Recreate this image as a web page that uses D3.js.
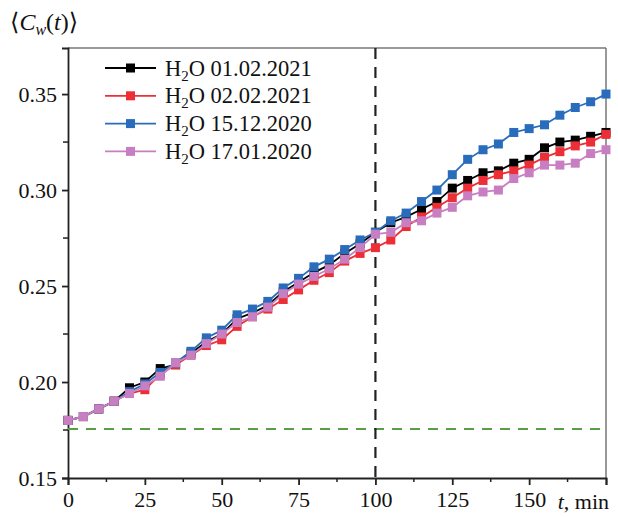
<!DOCTYPE html>
<html>
<head>
<meta charset="utf-8">
<script src="https://cdn.jsdelivr.net/npm/d3@7"></script>
<style>
  body { margin: 0; background: #fff; }
  svg text { font-family: "Liberation Serif", "DejaVu Serif", serif; }
</style>
</head>
<body>
<svg id="chart" width="618" height="517"></svg>
<script>
// time points, min
var times = d3.range(0, 180, 5);

var h2o_010221 = [0.180, 0.182, 0.186, 0.190, 0.197, 0.200, 0.207, 0.209, 0.215, 0.221, 0.225, 0.233,
  0.236, 0.240, 0.247, 0.252, 0.257, 0.261, 0.267, 0.272, 0.278, 0.283, 0.286, 0.290,
  0.294, 0.301, 0.305, 0.309, 0.310, 0.314, 0.316, 0.322, 0.325, 0.326, 0.328, 0.330];
var h2o_020221 = [0.180, 0.182, 0.186, 0.190, 0.194, 0.196, 0.204, 0.209, 0.214, 0.219, 0.222, 0.229,
  0.234, 0.238, 0.243, 0.248, 0.253, 0.257, 0.263, 0.267, 0.270, 0.274, 0.281, 0.286,
  0.291, 0.296, 0.301, 0.305, 0.308, 0.310, 0.313, 0.317, 0.320, 0.323, 0.325, 0.329];
var h2o_151220 = [0.180, 0.182, 0.186, 0.190, 0.195, 0.199, 0.205, 0.210, 0.216, 0.223, 0.227, 0.235,
  0.238, 0.242, 0.249, 0.254, 0.260, 0.264, 0.269, 0.274, 0.278, 0.284, 0.288, 0.294,
  0.300, 0.308, 0.316, 0.321, 0.324, 0.330, 0.332, 0.334, 0.339, 0.343, 0.346, 0.350];
var h2o_170120 = [0.180, 0.182, 0.186, 0.190, 0.194, 0.198, 0.203, 0.210, 0.214, 0.220, 0.225, 0.231,
  0.234, 0.239, 0.246, 0.251, 0.255, 0.259, 0.264, 0.270, 0.277, 0.278, 0.283, 0.284,
  0.288, 0.291, 0.297, 0.299, 0.300, 0.306, 0.309, 0.313, 0.313, 0.314, 0.319, 0.321];

var seriesNames = ["01.02.2021", "02.02.2021", "15.12.2020", "17.01.2020"];
var seriesColors = ["#000000", "#ec2f36", "#2a6cbc", "#c87fc2"];
var seriesValues = [h2o_010221, h2o_020221, h2o_151220, h2o_170120];

var xTicks = [0, 25, 50, 75, 100, 125, 150, 175];
var xTickLabels = ["0", "25", "50", "75", "100", "125", "150", ""];
var yTicks = [0.15, 0.20, 0.25, 0.30, 0.35];
var baseline = 0.1755;   // green dashed level
var tMark = 100;         // vertical dashed line

var svg = d3.select("#chart");
var margin = {top: 48, right: 12, bottom: 39, left: 68};
var width = 618 - margin.left - margin.right,
    height = 517 - margin.top - margin.bottom;
var g = svg.append("g").attr("transform", "translate(" + margin.left + "," + margin.top + ")");

var x = d3.scaleLinear().domain([0, 175]).range([0, width]);
var y = d3.scaleLinear().domain([0.15, 0.374]).range([height, 0]);

// frame top/right
g.append("line").attr("x1", 0).attr("x2", width).attr("y1", 0).attr("y2", 0)
  .attr("stroke", "#777").attr("stroke-width", 1.5);
g.append("line").attr("x1", width).attr("x2", width).attr("y1", 0).attr("y2", height)
  .attr("stroke", "#777").attr("stroke-width", 1.5);

// minor ticks
var xMinor = d3.range(12.5, 175, 25);
g.selectAll(".xminor").data(xMinor).enter().append("line")
  .attr("x1", function(d) { return x(d); }).attr("x2", function(d) { return x(d); })
  .attr("y1", height).attr("y2", height + 4)
  .attr("stroke", "#222").attr("stroke-width", 1.5);
var yMinor = [0.175, 0.225, 0.275, 0.325];
g.selectAll(".yminor").data(yMinor).enter().append("line")
  .attr("y1", function(d) { return y(d); }).attr("y2", function(d) { return y(d); })
  .attr("x1", 0).attr("x2", -5)
  .attr("stroke", "#222").attr("stroke-width", 1.5);

var xAxis = g.append("g").attr("transform", "translate(0," + height + ")")
  .call(d3.axisBottom(x).tickValues(xTicks).tickSize(7).tickPadding(6)
    .tickFormat(function(d, i) { return xTickLabels[i]; }));
var yAxis = g.append("g")
  .call(d3.axisLeft(y).tickValues(yTicks).tickSize(6).tickPadding(5).tickFormat(d3.format(".2f")));

[xAxis, yAxis].forEach(function(a) {
  a.select(".domain").attr("stroke", "#222").attr("stroke-width", 1.8);
  a.selectAll(".tick line").attr("stroke", "#222").attr("stroke-width", 1.8);
  a.selectAll(".tick text").attr("font-size", 22).attr("fill", "#111")
    .style("font-family", "Liberation Serif, serif");
});

// reference lines
g.append("line").attr("x1", 0).attr("x2", width)
  .attr("y1", y(baseline)).attr("y2", y(baseline))
  .attr("stroke", "#5a9e48").attr("stroke-width", 2).attr("stroke-dasharray", "10,8");
g.append("line").attr("x1", x(tMark)).attr("x2", x(tMark))
  .attr("y1", 0).attr("y2", height)
  .attr("stroke", "#222").attr("stroke-width", 2.2).attr("stroke-dasharray", "11,8");

// series
var line = d3.line()
  .x(function(d, i) { return x(times[i]); })
  .y(function(d) { return y(d); });

seriesValues.forEach(function(vals, k) {
  var s = g.append("g");
  s.append("path").datum(vals)
    .attr("fill", "none").attr("stroke", seriesColors[k]).attr("stroke-width", 1.8)
    .attr("d", line);
  s.selectAll("rect").data(vals).enter().append("rect")
    .attr("x", function(d, i) { return x(times[i]) - 4.5; })
    .attr("y", function(d) { return y(d) - 4.5; })
    .attr("width", 9).attr("height", 9)
    .attr("fill", seriesColors[k]);
});

// legend
var legend = svg.append("g").attr("transform", "translate(105,68)");
var rows = legend.selectAll("g").data(seriesNames).enter().append("g")
  .attr("transform", function(d, i) { return "translate(0," + (i * 27.8) + ")"; });
rows.append("line").attr("x1", 0).attr("x2", 51).attr("y1", 0).attr("y2", 0)
  .attr("stroke", function(d, i) { return seriesColors[i]; }).attr("stroke-width", 1.8);
rows.append("rect").attr("x", 21).attr("y", -4.5).attr("width", 9).attr("height", 9)
  .attr("fill", function(d, i) { return seriesColors[i]; });
var lt = rows.append("text").attr("x", 60).attr("y", 7.5).attr("font-size", 22.5).attr("fill", "#111");
lt.append("tspan").text("H");
lt.append("tspan").attr("font-size", 15).attr("dy", 5).text("2");
lt.append("tspan").attr("dy", -5).text(function(d) { return "O " + d; });

// axis titles
var yt = svg.append("text").attr("x", 10).attr("y", 30).attr("font-size", 24).attr("fill", "#111");
yt.append("tspan").text("\u27E8");
yt.append("tspan").attr("font-style", "italic").text("C");
yt.append("tspan").attr("font-style", "italic").attr("font-size", 16).attr("dy", 5).text("w");
yt.append("tspan").attr("dy", -5).text("(");
yt.append("tspan").attr("font-style", "italic").text("t");
yt.append("tspan").text(")\u27E9");

var xt = svg.append("text").attr("x", 609).attr("y", 509).attr("text-anchor", "end")
  .attr("font-size", 22).attr("fill", "#111");
xt.append("tspan").attr("font-style", "italic").text("t");
xt.append("tspan").text(", min");
</script>
</body>
</html>
